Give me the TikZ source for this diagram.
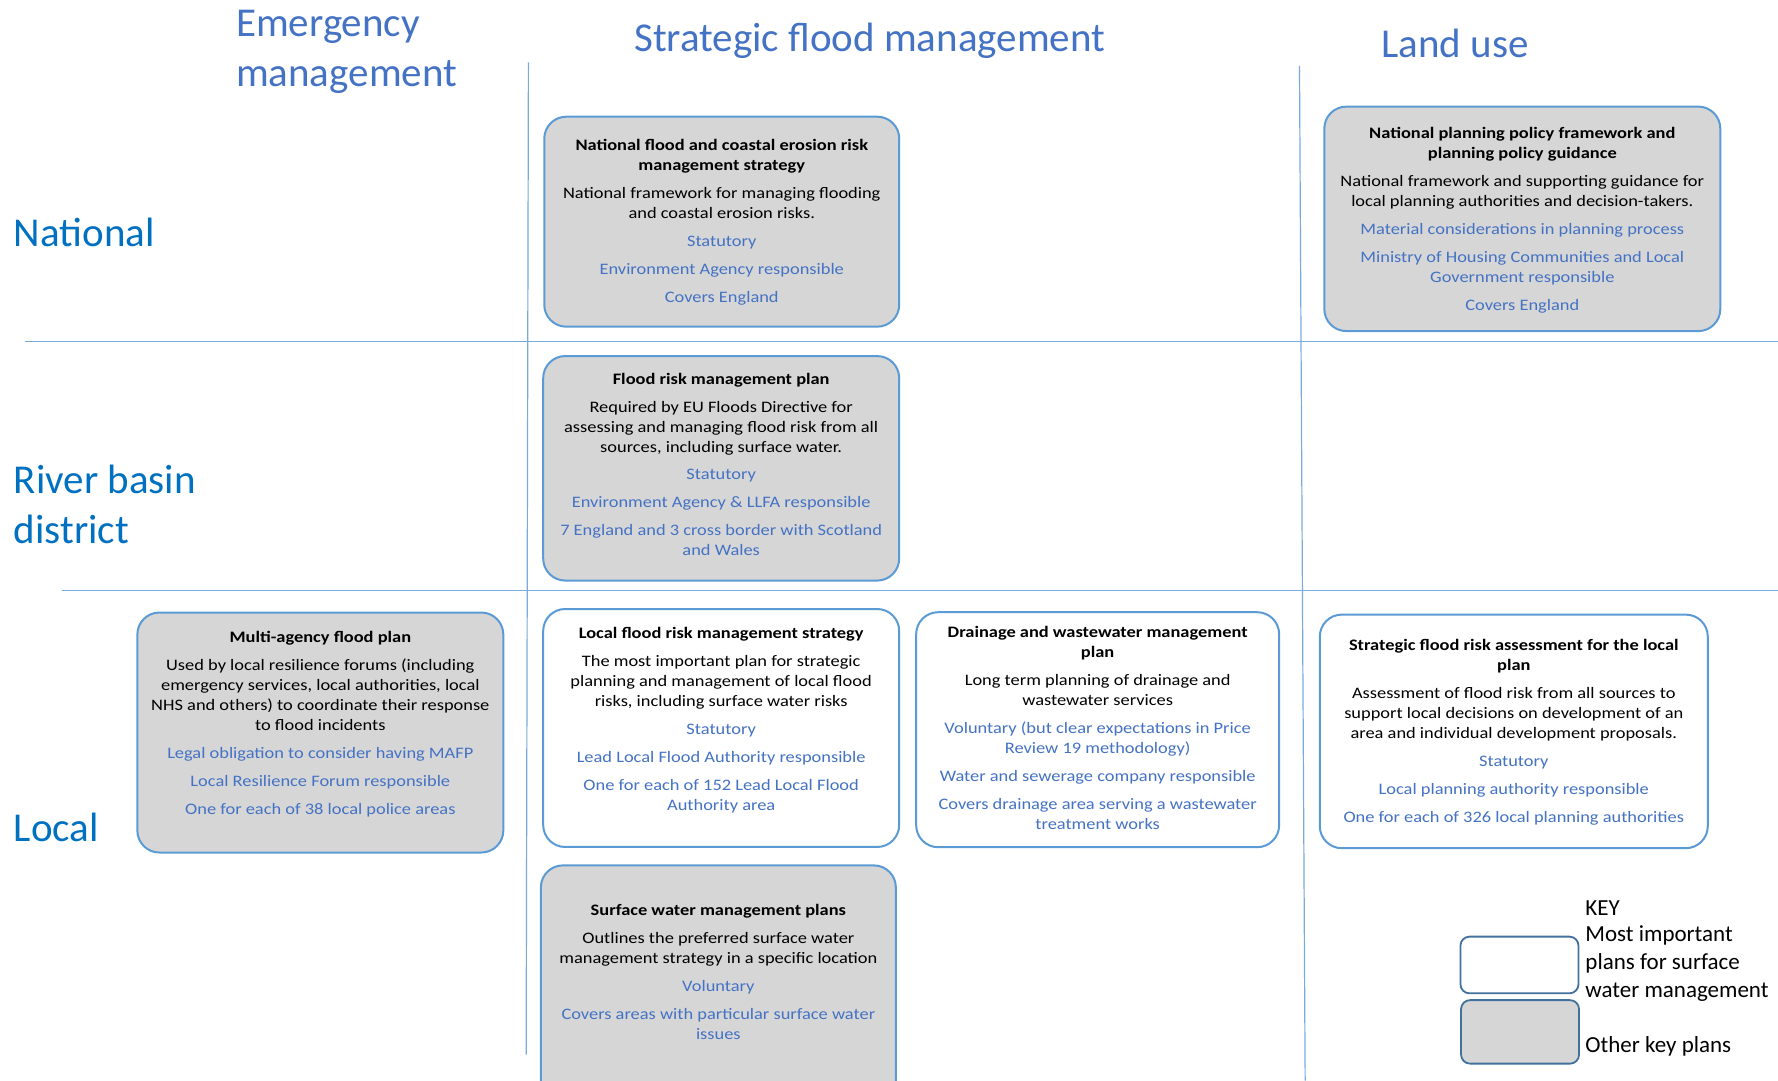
\documentclass[tikz,border=0pt]{standalone}
\usepackage{fontspec}
\setmainfont{Carlito}
\newfontfamily\planfont[FakeStretch=1.15]{Carlito}
\usetikzlibrary{positioning}

\definecolor{gridblue}{RGB}{120,170,220}
\definecolor{boxblue}{RGB}{91,155,213}
\definecolor{keyblue}{RGB}{65,113,156}
\definecolor{headblue}{RGB}{68,114,196}
\definecolor{rowblue}{RGB}{0,112,192}
\definecolor{infoblue}{RGB}{68,114,196}
\definecolor{plangray}{RGB}{214,214,214}
\newcommand{\info}[1]{\textcolor{infoblue}{#1}}

\begin{document}
\begin{tikzpicture}[x=1.134pt, y=-1.134pt,
	grid/.style={draw=gridblue, line width=1.2pt},
	plan/.style={draw=boxblue, line width=2pt, rounded corners=22pt},
	grayplan/.style={plan, fill=plangray},
	whiteplan/.style={plan, fill=white},
	plantext/.style={align=center, inner sep=0pt, font=\planfont\fontsize{16}{20}\selectfont},
	head/.style={text=headblue, inner sep=0pt, font=\fontsize{41}{50}\selectfont},
	level/.style={text=rowblue, inner sep=0pt, align=left, font=\fontsize{41}{50}\selectfont},
	keybox/.style={draw=keyblue, line width=1.8pt, rounded corners=9pt, minimum width=118pt},
	keytext/.style={inner sep=0pt, anchor=west, align=left, font=\fontsize{23}{28}\selectfont}]
	\path[use as bounding box, clip] (0,0) rectangle (1568,953);
	% grid
	\draw[grid] (466,55) -- (464,930);
	\draw[grid] (1146,58) -- (1151,953);
	\draw[grid] (22,301) -- (1568,301);
	\draw[grid] (55,521) -- (1568,521);
	% headings
	\node[head, anchor=north west, align=left] (EM) at (208,9) {Emergency\\management};
	\node[head, anchor=base] (SFM) at (767,45) {Strategic flood management};
	\node[head, anchor=base west] (LU) at (1218,51) {Land use};
	\node[level, anchor=base west] (NAT) at (12,217) {National};
	\node[level, anchor=north west] (RBD) at (12,410) {River basin\\district};
	\node[level, anchor=base west] (LOC) at (12,742) {Local};
	% national
	\node[grayplan, minimum width=355pt, minimum height=210pt] (N1) at (636.5,195.5) {};
	\node[plantext, below=23pt of N1.north] (N1t) {\textbf{National flood and coastal erosion risk}\\
		\textbf{management strategy}\\[8pt]
		National framework for managing flooding\\ and coastal erosion risks.\\[8pt]
		\info{Statutory}\\[8pt]
		\info{Environment Agency responsible}\\[8pt]
		\info{Covers England}};
	\node[grayplan, minimum width=396pt, minimum height=224.5pt] (N2) at (1342.5,193) {};
	\node[plantext, below=21pt of N2.north] (N2t) {\textbf{National planning policy framework and}\\
		\textbf{planning policy guidance}\\[8pt]
		National framework and supporting guidance for\\ local planning authorities and decision-takers.\\[8pt]
		\info{Material considerations in planning process}\\[8pt]
		\info{Ministry of Housing Communities and Local}\\ \info{Government responsible}\\[8pt]
		\info{Covers England}};
	% river basin district
	\node[grayplan, minimum width=356pt, minimum height=224.5pt] (R1) at (636,413) {};
	\node[plantext, below=17.5pt of R1.north] (R1t) {\textbf{Flood risk management plan}\\[8pt]
		Required by EU Floods Directive for\\ assessing and managing flood risk from all\\ sources, including surface water.\\[8pt]
		\info{Statutory}\\[8pt]
		\info{Environment Agency \& LLFA responsible}\\[8pt]
		\info{7 England and 3 cross border with Scotland}\\ \info{and Wales}};
	% local
	\node[grayplan, minimum width=366pt, minimum height=240pt] (L1) at (282.5,646) {};
	\node[plantext, below=19.7pt of L1.north] (L1t) {\textbf{Multi-agency flood plan}\\[8pt]
		Used by local resilience forums (including\\ emergency services, local authorities, local\\
		NHS and others) to coordinate their response\\ to flood incidents\\[8pt]
		\info{Legal obligation to consider having MAFP}\\[8pt]
		\info{Local Resilience Forum responsible}\\[8pt]
		\info{One for each of 38 local police areas}};
	\node[whiteplan, minimum width=356pt, minimum height=238pt] (L2) at (636,642) {};
	\node[plantext, below=18.6pt of L2.north] (L2t) {\textbf{Local flood risk management strategy}\\[8pt]
		The most important plan for strategic\\ planning and management of local flood\\ risks, including surface water risks\\[8pt]
		\info{Statutory}\\[8pt]
		\info{Lead Local Flood Authority responsible}\\[8pt]
		\info{One for each of 152 Lead Local Flood}\\ \info{Authority area}};
	\node[whiteplan, minimum width=363pt, minimum height=235pt] (L3) at (968,643.5) {};
	\node[plantext, below=15.2pt of L3.north] (L3t) {\textbf{Drainage and wastewater management}\\ \textbf{plan}\\[8pt]
		Long term planning of drainage and\\ wastewater services\\[8pt]
		\info{Voluntary (but clear expectations in Price}\\ \info{Review 19 methodology)}\\[8pt]
		\info{Water and sewerage company responsible}\\[8pt]
		\info{Covers drainage area serving a wastewater}\\ \info{treatment works}};
	\node[whiteplan, minimum width=388pt, minimum height=233.6pt] (L4) at (1335,645) {};
	\node[plantext, below=25.4pt of L4.north] (L4t) {\textbf{Strategic flood risk assessment for the local}\\ \textbf{plan}\\[8pt]
		Assessment of flood risk from all sources to\\ support local decisions on development of an\\ area and individual development proposals.\\[8pt]
		\info{Statutory}\\[8pt]
		\info{Local planning authority responsible}\\[8pt]
		\info{One for each of 326 local planning authorities}};
	\node[grayplan, minimum width=355pt, minimum height=240pt] (L5) at (633.5,869) {};
	\node[plantext, below=40pt of L5.north] (L5t) {\textbf{Surface water management plans}\\[8pt]
		Outlines the preferred surface water\\ management strategy in a specific location\\[8pt]
		\info{Voluntary}\\[8pt]
		\info{Covers areas with particular surface water}\\ \info{issues}};
	% key
	\node[keybox, fill=white, minimum height=56.7pt] (K1) at (1340,851) {};
	\node[keybox, fill=plangray, minimum height=63.5pt] (K2) at (1340.5,910) {};
	\node[keytext] (KT) at (1398,801) {KEY};
	\node[keytext] (K1t) at (1398,850) {Most important\\plans for surface\\water management};
	\node[keytext] (K2t) at (1398,923) {Other key plans};
\end{tikzpicture}
\end{document}
